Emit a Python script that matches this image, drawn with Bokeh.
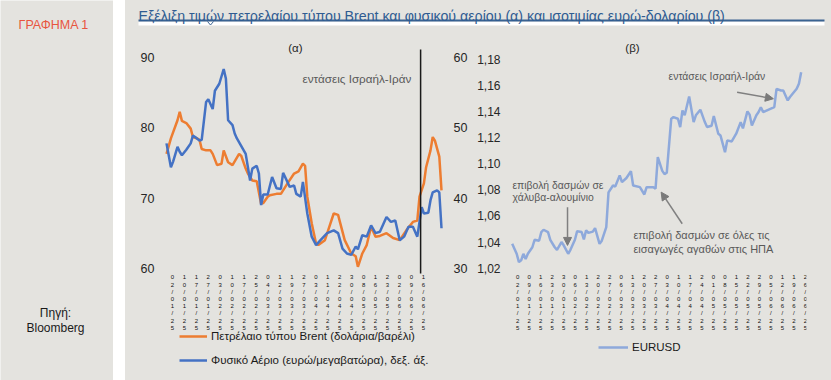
from bokeh.plotting import figure
from bokeh.models import (Range1d, LinearAxis, FixedTicker, CustomJSTickFormatter, Label,
                          Arrow, NormalHead, Legend, LegendItem, Spacer)
from bokeh.layouts import row, column
from bokeh.embed import file_html
from bokeh.resources import INLINE
from bokeh.core.properties import value

# ---------------- data ----------------
brent_day = [0, 2, 5, 6, 7, 9, 11, 12, 14, 15, 16, 18, 20, 21, 23, 25, 26, 28, 30, 33, 34, 36, 37, 39,
             41, 43, 44, 46, 47, 50, 52, 55, 58, 60, 62, 63, 64, 66, 68, 69, 72, 74, 76, 78, 79, 81,
             84, 86, 87, 89, 91, 93, 95, 97, 100, 103, 106, 109, 112, 114, 115, 117, 118, 120, 121,
             122, 124, 125]
brent_usd = [76.3, 78.5, 81.1, 82.3, 81.0, 80.7, 79.9, 78.7, 78.5, 78.3, 77.0, 76.8, 76.8, 76.3, 74.7,
             74.9, 76.8, 75.1, 74.7, 76.3, 76.0, 74.2, 73.5, 72.5, 72.4, 69.2, 69.3, 70.2, 70.4, 70.6,
             70.6, 72.1, 73.5, 73.8, 74.9, 74.6, 70.2, 66.4, 63.5, 63.3, 64.0, 65.9, 67.8, 67.6, 66.4,
             64.0, 62.1, 61.7, 60.2, 62.1, 63.3, 65.9, 64.5, 64.6, 65.0, 64.3, 64.0, 65.4, 66.6, 66.8,
             70.2, 72.1, 74.4, 76.8, 78.7, 78.2, 75.9, 71.1]

gas_day = [0, 1, 2, 3, 5, 6, 7, 9, 11, 12, 13, 15, 16, 18, 19, 21, 22, 24, 26, 27, 28, 30, 31, 32, 34,
           36, 37, 38, 39, 41, 42, 43, 44, 46, 48, 50, 52, 53, 56, 58, 59, 61, 62, 64, 66, 68, 70, 73,
           76, 78, 80, 82, 84, 86, 87, 89, 91, 93, 95, 97, 100, 102, 104, 106, 108, 110, 112, 114,
           116, 117, 119, 120, 121, 123, 124, 125]
gas_eur = [47.8, 46.1, 44.4, 45.2, 47.3, 46.6, 46.1, 46.9, 47.8, 48.9, 48.7, 48.2, 48.3, 53.7, 54.1,
           52.7, 55.3, 56.3, 58.4, 57.0, 51.1, 50.4, 49.2, 48.5, 47.4, 46.3, 44.4, 42.5, 44.2, 44.6,
           43.5, 39.0, 40.5, 40.5, 43.0, 41.4, 41.3, 43.6, 41.6, 41.8, 40.6, 40.2, 42.3, 37.8, 34.5,
           33.3, 34.0, 35.0, 35.4, 35.0, 32.8, 32.1, 31.9, 33.1, 32.7, 34.7, 34.5, 36.1, 35.0, 35.2,
           37.3, 36.6, 36.8, 34.0, 34.5, 35.9, 35.9, 34.5, 38.7, 37.8, 37.9, 39.7, 40.8, 41.1, 40.8,
           35.7]

eur_day = [0, 2, 3, 4, 5, 6, 7, 9, 10, 12, 13, 14, 16, 17, 19, 20, 22, 23, 25, 26, 28, 29, 31, 32, 33,
           34, 36, 37, 39, 40, 42, 43, 45, 46, 48, 49, 51, 53, 54, 57, 59, 60, 63, 64, 65, 67, 68, 69,
           71, 72, 74, 75, 76, 77, 79, 81, 82, 84, 86, 87, 89, 90, 92, 93, 95, 96, 98, 100, 102, 103,
           105, 106, 107, 109, 110, 111, 112, 114, 117, 118, 120, 121, 123, 124, 127, 128, 129]
eurusd = [1.0386, 1.031, 1.0246, 1.026, 1.031, 1.027, 1.031, 1.036, 1.0417, 1.041, 1.0476, 1.0494,
          1.0476, 1.0417, 1.036, 1.034, 1.040, 1.0375, 1.031, 1.034, 1.0417, 1.0483, 1.0476, 1.042,
          1.049, 1.047, 1.048, 1.0507, 1.0386, 1.041, 1.0514, 1.078, 1.0833, 1.0825, 1.091, 1.0858,
          1.089, 1.0942, 1.0833, 1.082, 1.0764, 1.082, 1.082, 1.0808, 1.105, 1.0945, 1.092, 1.093,
          1.1344, 1.1356, 1.1344, 1.128, 1.1407, 1.137, 1.1514, 1.1318, 1.137, 1.1413, 1.1318, 1.128,
          1.129, 1.1364, 1.1229, 1.1215, 1.1088, 1.1178, 1.117, 1.1229, 1.1318, 1.127, 1.140, 1.1375,
          1.1292, 1.137, 1.1395, 1.1432, 1.1395, 1.141, 1.1432, 1.1573, 1.156, 1.156, 1.1484, 1.151,
          1.1573, 1.1612, 1.170]

tick_labels_a = ["02/01/25", "10/01/25", "17/01/25", "27/01/25", "03/02/25", "10/02/25", "17/02/25",
                 "25/02/25", "04/03/25", "12/03/25", "19/03/25", "27/03/25", "03/04/25", "11/04/25",
                 "22/04/25", "30/04/25", "08/05/25", "16/05/25", "23/05/25", "02/06/25", "09/06/25",
                 "16/06/25"]
tick_labels_b = ["02/01/25", "09/01/25", "16/01/25", "23/01/25", "30/01/25", "06/02/25", "13/02/25",
                 "20/02/25", "27/02/25", "06/03/25", "13/03/25", "20/03/25", "27/03/25", "03/04/25",
                 "10/04/25", "17/04/25", "24/04/25", "01/05/25", "08/05/25", "15/05/25", "22/05/25",
                 "29/05/25", "05/06/25", "12/06/25", "19/06/25", "26/06/25"]

yticks_brent = [60, 70, 80, 90]
yticks_gas = [30, 40, 50, 60]
yticks_eur = [1.02, 1.04, 1.06, 1.08, 1.10, 1.12, 1.14, 1.16, 1.18]

event_day_a = 115.5

# ---------------- style ----------------
BG = "#E4E3DF"
FONT = "Liberation Sans"
ORANGE = "#ED7D31"
BLUE = "#4472C4"
LIGHTBLUE = "#8EA9DB"
GRAY = "#808080"
TXT = "#262626"

ticks_a = [2.7 + i * 5.43 for i in range(len(tick_labels_a))]
ticks_b = [2.4 + i * 5.14 for i in range(len(tick_labels_b))]


def stacked(labels):
    return ["\n".join(list(s)) for s in labels]


def date_formatter(tpos, tlab):
    return CustomJSTickFormatter(args=dict(tpos=tpos, tlab=stacked(tlab)), code="""
        let best = 0, bd = 1e9;
        for (let i = 0; i < tpos.length; i++) {
            const d = Math.abs(tpos[i] - tick);
            if (d < bd) { bd = d; best = i; }
        }
        return tlab[best];
    """)


def style_axis(ax, size="12px", standoff=6):
    ax.axis_line_color = None
    ax.major_tick_line_color = None
    ax.minor_tick_line_color = None
    ax.major_tick_out = 0
    ax.major_tick_in = 0
    ax.minor_tick_out = 0
    ax.minor_tick_in = 0
    ax.major_label_standoff = standoff
    ax.major_label_text_font = FONT
    ax.major_label_text_font_size = size
    ax.major_label_text_color = TXT


def base_fig(width, height, xr, yr, **kw):
    p = figure(width=width, height=height, x_range=xr, y_range=yr, output_backend="svg",
               toolbar_location=None, background_fill_color=BG, border_fill_color=BG,
               outline_line_color=None, x_axis_location=None, y_axis_location=None, **kw)
    p.xgrid.visible = False
    p.ygrid.visible = False
    return p


# ---------------- left strip ----------------
side = base_fig(113, 380, Range1d(0, 113), Range1d(380, 0), min_border=0)
side.text(x=[18], y=[24], text=["ΓΡΑΦΗΜΑ 1"], text_font=value(FONT), text_font_size="12.5px",
          text_color="#E8553E", text_baseline="middle", text_align="left")
side.text(x=[55, 55], y=[312, 327], text=["Πηγή:", "Bloomberg"], text_font=value(FONT),
          text_font_size="12px", text_color="#1a1a1a", text_baseline="middle", text_align="center")

# ---------------- title ----------------
tfig = base_fig(706, 30, Range1d(0, 706), Range1d(30, 0), min_border=0)
tfig.quad(left=[13], right=[699], top=[21], bottom=[25], fill_color="white", line_color=None)
tfig.line(x=[13, 699], y=[20, 20], line_color="#3A6391", line_width=2)
tfig.line(x=[82, 85, 88], y=[21, 24.5, 21], line_color="#3A6391", line_width=1)
tfig.text(x=[13], y=[15.6], text=["Εξέλιξη τιμών πετρελαίου τύπου Brent και φυσικού αερίου (α) και ισοτιμίας ευρώ-δολαρίου (β)"],
          text_font=value(FONT), text_font_size="14.2px", text_color="#2F5C92",
          text_baseline="alphabetic", text_align="left")

# ---------------- chart (α) ----------------
# frame spans from the top of the chart down to the page bottom; the date axis sits at its fixed place
pa = base_fig(345, 350, Range1d(-2.73, 127.27), Range1d(43.99, 92.75),
              min_border_left=35, min_border_right=24, min_border_top=8, min_border_bottom=0)
pa.extra_y_ranges = {"gas": Range1d(13.99, 62.75)}

ax_l = LinearAxis(ticker=FixedTicker(ticks=yticks_brent))
style_axis(ax_l, size="12.5px", standoff=6)
pa.add_layout(ax_l, "left")
ax_r = LinearAxis(y_range_name="gas", ticker=FixedTicker(ticks=yticks_gas))
style_axis(ax_r, size="12.5px", standoff=7)
pa.add_layout(ax_r, "right")
ax_b = LinearAxis(ticker=FixedTicker(ticks=ticks_a), formatter=date_formatter(ticks_a, tick_labels_a),
                  fixed_location=59.39)
style_axis(ax_b, size="6px", standoff=2)
ax_b.major_label_text_color = "#111111"
ax_b.major_label_text_line_height = 1.2
pa.add_layout(ax_b, "below")

r_brent = pa.line(brent_day, brent_usd, line_color=ORANGE, line_width=2.5)
r_gas = pa.line(gas_day, gas_eur, y_range_name="gas", line_color=BLUE, line_width=2.5)
pa.segment(x0=[event_day_a], y0=[91.18], x1=[event_day_a], y1=[59.24], line_color="#1a1a1a", line_width=1.5)

pa.add_layout(Label(x=58.6, y=91.33, text="(α)", text_font=FONT, text_font_size="11.5px",
                    text_color=TXT, text_align="center", text_baseline="middle"))
pa.add_layout(Label(x=61.8, y=87.09, text="εντάσεις Ισραήλ-Ιράν", text_font=FONT,
                    text_font_size="11.7px", text_color="#595959", text_align="left",
                    text_baseline="middle"))

leg_a = Legend(items=[LegendItem(label="Πετρέλαιο τύπου Brent (δολάρια/βαρέλι)", renderers=[r_brent]),
                      LegendItem(label="Φυσικό Αέριο (ευρώ/μεγαβατώρα), δεξ. άξ.", renderers=[r_gas])],
               location=(19, 14), orientation="vertical", background_fill_alpha=0,
               border_line_color=None, label_text_font=FONT, label_text_font_size="11.5px",
               label_text_color="#1a1a1a", glyph_width=28, glyph_height=12, label_height=12,
               label_standoff=4, padding=0, spacing=12, margin=0)
pa.add_layout(leg_a)

# ---------------- chart (β) ----------------
pb = base_fig(361, 350, Range1d(-2.54, 131.38), Range1d(0.934, 1.1958),
              min_border_left=36, min_border_right=25, min_border_top=8, min_border_bottom=0)
ax_l2 = LinearAxis(ticker=FixedTicker(ticks=yticks_eur),
                   formatter=CustomJSTickFormatter(code="return tick.toFixed(2).replace('.', ',');"))
style_axis(ax_l2, standoff=6)
pb.add_layout(ax_l2, "left")
ax_b2 = LinearAxis(ticker=FixedTicker(ticks=ticks_b), formatter=date_formatter(ticks_b, tick_labels_b),
                   fixed_location=1.0167)
style_axis(ax_b2, size="6px", standoff=2)
ax_b2.major_label_text_color = "#111111"
ax_b2.major_label_text_line_height = 1.2
pb.add_layout(ax_b2, "below")

r_eur = pb.line(eur_day, eurusd, line_color=LIGHTBLUE, line_width=2.5)

ann = dict(text_font=FONT, text_color="#595959", text_align="left", text_baseline="middle",
           text_font_size="10.4px")
pb.add_layout(Label(x=53.7, y=1.1882, text="(β)", text_font=FONT, text_font_size="11.5px",
                    text_color=TXT, text_align="center", text_baseline="middle"))
pb.add_layout(Label(x=69.8, y=1.1668, text="εντάσεις Ισραήλ-Ιράν", **ann))
pb.add_layout(Label(x=0.13, y=1.0833, text="επιβολή δασμών σε", **ann))
pb.add_layout(Label(x=0.13, y=1.0741, text="χάλυβα-αλουμίνιο", **ann))
ann2 = dict(ann, text_font_size="11px")
pb.add_layout(Label(x=54.1, y=1.045, text="επιβολή δασμών σε όλες τις", **ann2))
pb.add_layout(Label(x=54.1, y=1.035, text="εισαγωγές αγαθών στις ΗΠΑ", **ann2))

for xs, ys, xe, ye in [(100.4, 1.1547, 116.6, 1.1497),
                       (24.7, 1.0667, 24.7, 1.0374),
                       (75.9, 1.054, 66.5, 1.0782)]:
    pb.add_layout(Arrow(end=NormalHead(size=8, fill_color="#7a7a7a", line_color="#7a7a7a"),
                        x_start=xs, y_start=ys, x_end=xe, y_end=ye,
                        line_color=GRAY, line_width=1.5))

leg_b = Legend(items=[LegendItem(label="EURUSD", renderers=[r_eur])],
               location=(92, 27), orientation="vertical", background_fill_alpha=0,
               border_line_color=None, label_text_font=FONT, label_text_font_size="11.5px",
               label_text_color="#1a1a1a", glyph_width=30, glyph_height=12, label_height=12,
               label_standoff=4, padding=0, spacing=0, margin=0)
pb.add_layout(leg_b)

charts = row(pa, pb, styles={"background-color": BG})
right = column(tfig, charts, styles={"background-color": BG})
layout = row(side, Spacer(width=12, height=380), right)

open("out.html", "w").write(file_html(layout, INLINE))
